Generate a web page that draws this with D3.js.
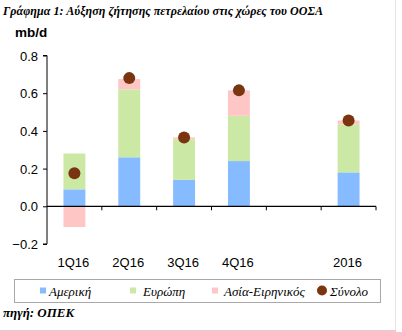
<!DOCTYPE html>
<html><head><meta charset="utf-8">
<script src="https://cdn.jsdelivr.net/npm/d3@7/dist/d3.min.js"></script>
<style>body{margin:0;background:#fff}</style>
</head><body><svg id="c" width="402" height="332"></svg>
<script>
const categories = ["1Q16","2Q16","3Q16","4Q16","","2016"];
const america = [0.09, 0.26, 0.14, 0.24, null, 0.18];
const europe  = [0.19, 0.36, 0.215, 0.24, null, 0.255];
const asia    = [-0.11, 0.055, 0.01, 0.135, null, 0.02];
const total   = [0.175, 0.68, 0.365, 0.615, null, 0.455];
const yTicks = [-0.2, 0.0, 0.2, 0.4, 0.6, 0.8];
const seriesNames = ["Αμερική","Ευρώπη","Ασία-Ειρηνικός","Σύνολο"];
const colors = ["#86bcff","#cce8a5","#ffc6c6","#7a3510"];

const svg = d3.select("#c");
const x = d3.scaleBand().domain(categories.map((c,i)=>i)).range([47,376]).paddingInner(0.6).paddingOuter(0.3);
const y = d3.scaleLinear().domain([-0.2,0.8]).range([244,55.5]);

// frame lines
svg.append("line").attr("x1",395.5).attr("x2",395.5).attr("y1",0).attr("y2",332).attr("stroke","#e6e6e6");
svg.append("line").attr("x1",0).attr("x2",396).attr("y1",331).attr("y2",331).attr("stroke","#f0c8c8").attr("stroke-width",2);

svg.append("text").attr("x",3).attr("y",15)
  .attr("font-family","Liberation Serif").attr("font-style","italic").attr("font-weight","bold")
  .attr("font-size",12).attr("textLength",320).text("Γράφημα 1: Αύξηση ζήτησης πετρελαίου στις χώρες του ΟΟΣΑ");
svg.append("text").attr("x",15).attr("y",37)
  .attr("font-family","Liberation Sans").attr("font-weight","bold").attr("font-size",13.5).text("mb/d");

// stacked bars
const series = [america, europe, asia];
categories.forEach((c,i)=>{
  if (america[i]===null) return;
  let pos = 0, neg = 0;
  series.forEach((s,k)=>{
    const v = s[i];
    let y0, y1;
    if (v >= 0) { y0 = pos; y1 = pos + v; pos = y1; }
    else { y0 = neg; y1 = neg + v; neg = y1; }
    svg.append("rect").attr("x",x(i)).attr("width",x.bandwidth())
      .attr("y",y(Math.max(y0,y1))).attr("height",Math.abs(y(y0)-y(y1)))
      .attr("fill",colors[k]);
  });
});

// axes
const yAxis = d3.axisLeft(y).tickValues(yTicks).tickFormat(d3.format(".1f")).tickSize(4);
const gy = svg.append("g").attr("transform","translate(47,0)").call(yAxis);
gy.selectAll("text").attr("font-family","Liberation Sans").attr("font-size",13).attr("fill","#000").attr("x",-9).attr("dy","0.35em");
gy.selectAll("line").attr("stroke","#000");
gy.select(".domain").attr("stroke","#000").attr("d","M-4,55.5H0V244H-4");

const xBand = d3.scaleBand().domain(categories.map((c,i)=>i)).range([47,376]);
svg.append("line").attr("x1",47).attr("x2",376).attr("y1",y(0)).attr("y2",y(0)).attr("stroke","#000").attr("stroke-width",1.2);
for (let i=1;i<=categories.length;i++){
  const xx = 47 + i*xBand.bandwidth();
  svg.append("line").attr("x1",xx).attr("x2",xx).attr("y1",y(0)).attr("y2",y(0)+4).attr("stroke","#000");
}
categories.forEach((c,i)=>{
  svg.append("text").attr("x",xBand(i)+xBand.bandwidth()/2-1).attr("y",267).attr("text-anchor","middle")
    .attr("font-family","Liberation Sans").attr("font-size",13).text(c);
});

// total dots
categories.forEach((c,i)=>{
  if (total[i]===null) return;
  svg.append("circle").attr("cx",x(i)+x.bandwidth()/2).attr("cy",y(total[i])).attr("r",6).attr("fill",colors[3]);
});

// legend
svg.append("rect").attr("x",14.5).attr("y",279.5).attr("width",366).attr("height",23).attr("fill","none").attr("stroke","#a8a8a8");
const lx = [40, 130, 212, 322];
const tx = [49, 143, 224, 330];
seriesNames.forEach((n,k)=>{
  if (k<3) svg.append("rect").attr("x",lx[k]).attr("y",287.5).attr("width",6).attr("height",6).attr("fill",colors[k]);
  else svg.append("circle").attr("cx",lx[k]).attr("cy",290.5).attr("r",5).attr("fill",colors[k]);
  svg.append("text").attr("x",tx[k]).attr("y",296).attr("font-family","Liberation Serif").attr("font-style","italic")
    .attr("font-size",13).text(n);
});

svg.append("text").attr("x",3).attr("y",317).attr("font-family","Liberation Serif").attr("font-style","italic")
  .attr("font-weight","bold").attr("font-size",13).text("πηγή: ΟΠΕΚ");
</script>
</body></html>
